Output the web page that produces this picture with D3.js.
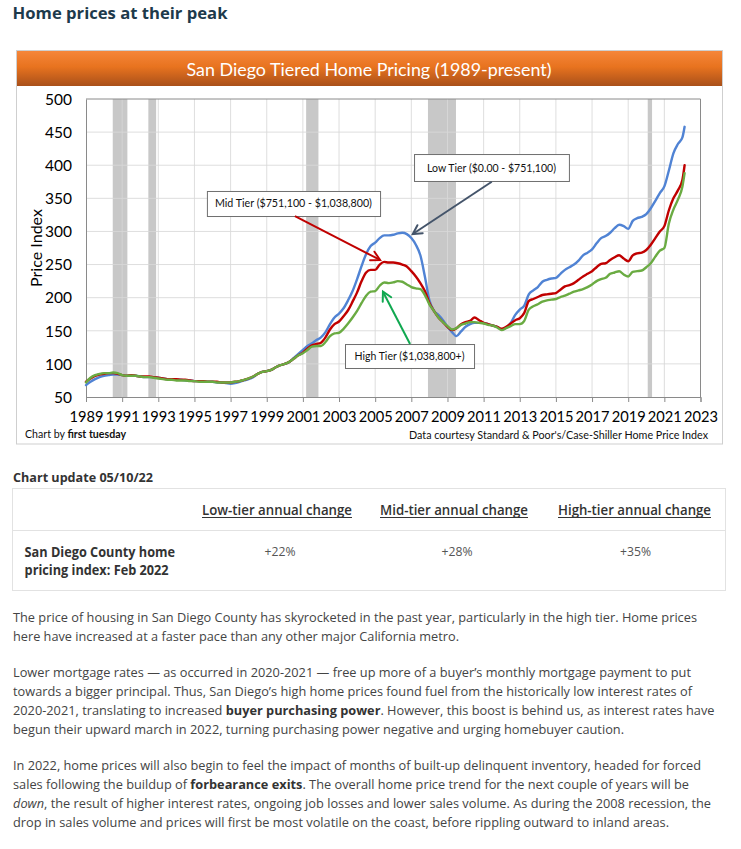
<!DOCTYPE html>
<html><head><meta charset="utf-8">
<script src="https://cdn.jsdelivr.net/npm/d3@7"></script>
<style>body{margin:0;background:#fff;} svg{display:block;}</style>
</head><body>
<svg id="c" width="741" height="849"></svg>
<script>
// ---------- DATA ----------
const startYear = 1989, quarterStep = 0.25, lastDate = 2022.12;
const lowTier = [
 68,73,77,80, 82,83,84,84, 83,82,82,82, 81,80,80,80, 79,78,77,77,
 76,76,75,75, 74,74,73,73, 73,72,72,71, 70,71,73,75, 77,80,85,88,
 89,91,95,98, 100,103,109,115, 121,127,131,136, 140,148,160,170,
 176,184,196,210, 228,248,266,278, 283,290,294,294, 295,297,298,296,
 290,280,264,232, 196,180,174,166, 156,148,142,149, 156,160,162,162,
 162,160,158,156, 152,155,162,174, 182,188,205,211, 216,224,227,229,
 230,236,242,246, 250,256,264,268, 273,282,290,293, 298,305,310,308,
 304,316,320,322, 326,335,346,358, 368,392,418,432, 442,458];
const midTier = [
 73,78,82,84, 85,86,86,85, 83,82,83,82, 81,81,81,80, 79,78,77,77,
 77,76,76,75, 74,74,74,73, 73,73,72,72, 72,73,74,76, 78,81,85,88,
 89,91,95,98, 100,103,108,113, 117,123,128,130, 132,140,152,160,
 164,172,181,194, 208,225,238,242, 242,250,254,253, 253,252,250,247,
 240,232,222,210, 192,180,170,163, 156,151,154,160, 163,165,170,166,
 162,160,158,156, 153,156,161,166, 169,177,195,198, 201,204,205,206,
 207,212,217,219, 222,227,232,236, 240,246,251,252, 257,261,264,259,
 255,264,267,268, 272,280,290,300, 308,332,350,362, 378,400];
const highTier = [
 72,79,83,85, 86,86,87,86, 83,82,82,82, 81,80,80,79, 78,77,76,76,
 75,75,75,74, 74,73,73,73, 73,72,72,72, 72,73,74,76, 78,81,85,88,
 89,91,95,98, 100,103,108,113, 116,121,126,127, 127,133,142,146,
 147,153,161,170, 180,192,203,209, 210,218,223,222, 223,225,224,220,
 216,214,213,204, 190,180,170,163, 157,152,154,159, 161,163,163,162,
 161,159,158,155, 151,154,157,160, 160,165,182,187, 190,194,196,197,
 198,201,203,206, 209,211,213,216, 220,225,228,230, 236,238,240,235,
 232,239,240,241, 246,252,262,271, 275,312,333,348, 368,388];
const seriesNames = ["Low Tier", "Mid Tier", "High Tier"];
const seriesColors = ["#5083d4", "#c00000", "#6aab42"];
const recessionStart = [1990.48, 1992.45, 2001.18, 2007.92, 2020.08];
const recessionEnd   = [1991.29, 1992.88, 2001.86, 2009.47, 2020.32];
const xTickLabels = [1989,1991,1993,1995,1997,1999,2001,2003,2005,2007,2009,2011,2013,2015,2017,2019,2021,2023];
const yTickLabels = [50,100,150,200,250,300,350,400,450,500];
// annotations in data coordinates (year, index value)
const annoText = ["Mid Tier ($751,100 - $1,038,800)", "Low Tier ($0.00 - $751,100)", "High Tier ($1,038,800+)"];
const annoBox = [[1995.69,2005.27,361.1,323.3],[2007.15,2015.72,416.9,376.2],[2003.33,2010.47,130,93.8]];
const annoArrow = [[2000.56,323.3,2005.27,256.9],[2011.45,375.1,2007.08,296.1],[2006.93,130,2005.43,209]];
const annoColor = ["#c00000", "#44546a", "#10a850"];
const annoTextLen = [157,129,110];

const tableHeaders = ["Low-tier annual change","Mid-tier annual change","High-tier annual change"];
const tableRowLabel = ["San Diego County home","pricing index: Feb 2022"];
const tableValues = ["+22%","+28%","+35%"];

// ---------- DRAW ----------
const svg = d3.select('#c');
const chartFont = "Lato, 'Open Sans', sans-serif";
const pageFont = "'Open Sans', sans-serif";
svg.append('rect').attr('width',741).attr('height',849).attr('fill','#fff');

svg.append('text').attr('x',12.5).attr('y',18.5).text('Home prices at their peak')
  .attr('font-family',pageFont).attr('font-weight',700).attr('font-size',16)
  .attr('fill','#1d3a4b').attr('textLength',215).attr('lengthAdjust','spacingAndGlyphs');

// chart panel
const defs = svg.append('defs');
const g1 = defs.append('linearGradient').attr('id','hdr').attr('x1',0).attr('x2',0).attr('y1',0).attr('y2',1);
g1.append('stop').attr('offset','0%').attr('stop-color','#f5863a');
g1.append('stop').attr('offset','45%').attr('stop-color','#e8731f');
g1.append('stop').attr('offset','100%').attr('stop-color','#a9501a');

svg.append('rect').attr('x',16.5).attr('y',50.5).attr('width',706).attr('height',393.5)
  .attr('fill','#fff').attr('stroke','#cfcfcf');
svg.append('rect').attr('x',17).attr('y',51).attr('width',705).attr('height',35).attr('fill','url(#hdr)');
svg.append('text').attr('x',369).attr('y',75.7).attr('text-anchor','middle')
  .attr('font-family',chartFont).attr('font-size',17).attr('fill','#fff')
  .attr('textLength',365).attr('lengthAdjust','spacingAndGlyphs')
  .text('San Diego Tiered Home Pricing (1989-present)');

const x = d3.scaleLinear().domain([1989,2023]).range([86,700.5]);
const y = d3.scaleLinear().domain([50,500]).range([397,99]);

const plot = svg.append('g');
// recession bands
plot.selectAll('rect.rec').data(recessionStart).join('rect').attr('class','rec')
  .attr('x',(d)=>x(d)).attr('width',(d,i)=>x(recessionEnd[i])-x(d))
  .attr('y',y(500)).attr('height',y(50)-y(500)).attr('fill','#c8c8c8');
// grid
plot.selectAll('line.vg').data(xTickLabels.slice(1,-1)).join('line').attr('class','vg')
  .attr('x1',d=>x(d)).attr('x2',d=>x(d)).attr('y1',y(500)).attr('y2',y(50))
  .attr('stroke','#d9d9d9').attr('stroke-width',1).attr('opacity',0.85);
plot.selectAll('line.hg').data(yTickLabels.slice(1,-1)).join('line').attr('class','hg')
  .attr('x1',x(1989)).attr('x2',x(2023)).attr('y1',d=>y(d)).attr('y2',d=>y(d))
  .attr('stroke','#d9d9d9').attr('stroke-width',1).attr('opacity',0.85);
// frame
plot.append('line').attr('x1',x(1989)).attr('x2',x(2023)).attr('y1',y(500)).attr('y2',y(500)).attr('stroke','#8a8a8a');
plot.append('line').attr('x1',x(2023)).attr('x2',x(2023)).attr('y1',y(500)).attr('y2',y(50)).attr('stroke','#8a8a8a');

// axes
const xAxis = d3.axisBottom(x).tickValues(xTickLabels).tickFormat(d3.format('d')).tickSize(5).tickPadding(8);
const gx = svg.append('g').attr('transform',`translate(0,${y(50)})`).call(xAxis);
gx.select('.domain').attr('stroke','#8a8a8a');
gx.selectAll('.tick line').attr('stroke','#8a8a8a');
gx.selectAll('.tick text').attr('font-family',chartFont).attr('font-size',15).attr('fill','#000')
  .attr('dy',null).attr('y',24.5).attr('textLength',34).attr('lengthAdjust','spacingAndGlyphs');

const yAxis = d3.axisLeft(y).tickValues(yTickLabels).tickSize(0).tickPadding(14);
const gy = svg.append('g').attr('transform',`translate(${x(1989)},0)`).call(yAxis);
gy.select('.domain').attr('stroke','#8a8a8a');
gy.selectAll('.tick text').attr('font-family',chartFont).attr('font-size',15.5).attr('fill','#000').attr('dy','0.34em');

svg.append('text').attr('transform','translate(41.5,248) rotate(-90)').attr('text-anchor','middle')
  .attr('font-family',chartFont).attr('font-size',16).attr('fill','#000')
  .attr('textLength',78).attr('lengthAdjust','spacingAndGlyphs').text('Price Index');

// series lines
const dates = lowTier.map((d,i)=> i < lowTier.length-1 ? startYear + i*quarterStep : lastDate);
const series = [lowTier, midTier, highTier];
const line = d3.line().x((d,i)=>x(dates[i])).y(d=>y(d)).curve(d3.curveMonotoneX);
svg.append('g').selectAll('path').data(series).join('path')
  .attr('d',d=>line(d)).attr('fill','none')
  .attr('stroke',(d,i)=>seriesColors[i]).attr('stroke-width',2.4)
  .attr('stroke-linejoin','round').attr('stroke-linecap','round');

// annotations
const ag = svg.append('g');
annoText.forEach((t,i)=>{
  const [a0,a1,b0,b1] = annoBox[i];
  ag.append('rect').attr('x',x(a0)+0.5).attr('y',y(b0)+0.5)
    .attr('width',x(a1)-x(a0)).attr('height',y(b1)-y(b0))
    .attr('fill','#fff').attr('stroke','#6f6f6f').attr('stroke-width',1);
  ag.append('text').attr('x',(x(a0)+x(a1))/2).attr('y',(y(b0)+y(b1))/2+4)
    .attr('text-anchor','middle').attr('font-family',chartFont).attr('font-size',11.5)
    .attr('fill','#111').attr('textLength',annoTextLen[i]).attr('lengthAdjust','spacingAndGlyphs').text(t);
  const [p0,q0,p1,q1] = annoArrow[i];
  const X0=x(p0),Y0=y(q0),X1=x(p1),Y1=y(q1);
  const ang = Math.atan2(Y1-Y0,X1-X0), L=10, hw=0.5;
  const h1=[X1-L*Math.cos(ang-hw), Y1-L*Math.sin(ang-hw)];
  const h2=[X1-L*Math.cos(ang+hw), Y1-L*Math.sin(ang+hw)];
  ag.append('line').attr('x1',X0).attr('y1',Y0).attr('x2',X1).attr('y2',Y1)
    .attr('stroke',annoColor[i]).attr('stroke-width',2);
  ag.append('path').attr('d',`M${h1[0]},${h1[1]}L${X1},${Y1}L${h2[0]},${h2[1]}`)
    .attr('fill','none').attr('stroke',annoColor[i]).attr('stroke-width',2)
    .attr('stroke-linejoin','miter').attr('stroke-linecap','round');
});

// footers
const f1 = svg.append('text').attr('x',25).attr('y',437.5).attr('font-family',chartFont).attr('font-size',11)
  .attr('fill','#111').attr('textLength',101).attr('lengthAdjust','spacingAndGlyphs');
f1.append('tspan').text('Chart by ');
f1.append('tspan').attr('font-weight',700).text('first tuesday');
svg.append('text').attr('x',708).attr('y',438.5).attr('text-anchor','end').attr('font-family',chartFont)
  .attr('font-size',11).attr('fill','#111').attr('textLength',299).attr('lengthAdjust','spacingAndGlyphs')
  .text("Data courtesy Standard & Poor's/Case-Shiller Home Price Index");

// chart update + table
svg.append('text').attr('x',13).attr('y',482).attr('font-family',pageFont).attr('font-size',13)
  .attr('font-weight',700).attr('fill','#333').attr('textLength',140).attr('lengthAdjust','spacingAndGlyphs')
  .text('Chart update 05/10/22');
svg.append('rect').attr('x',12.5).attr('y',488.5).attr('width',713).attr('height',102)
  .attr('fill','none').attr('stroke','#e2e2e2');
svg.append('line').attr('x1',12.5).attr('x2',725.5).attr('y1',530.5).attr('y2',530.5).attr('stroke','#e2e2e2');
const colCenters = [277, 454, 634.5];
const headWidths = [150, 148, 153];
tableHeaders.forEach((t,i)=>{
  svg.append('text').attr('x',colCenters[i]).attr('y',514.5).attr('text-anchor','middle')
    .attr('font-family',pageFont).attr('font-size',13.5).attr('font-weight',600).attr('fill','#333')
    .attr('textLength',headWidths[i]).attr('lengthAdjust','spacingAndGlyphs').text(t);
  svg.append('line').attr('x1',colCenters[i]-headWidths[i]/2).attr('x2',colCenters[i]+headWidths[i]/2)
    .attr('y1',517.5).attr('y2',517.5).attr('stroke','#333').attr('stroke-width',1);
});
const valCenters = [280, 457, 635.5];
tableValues.forEach((t,i)=>{
  svg.append('text').attr('x',valCenters[i]).attr('y',556).attr('text-anchor','middle')
    .attr('font-family',pageFont).attr('font-size',12.5).attr('fill','#555')
    .attr('textLength',31).attr('lengthAdjust','spacingAndGlyphs').text(t);
});
const rowW = [150.5, 144];
tableRowLabel.forEach((t,i)=>{
  svg.append('text').attr('x',24.6).attr('y',556.5+i*18.8)
    .attr('font-family',pageFont).attr('font-size',13.5).attr('font-weight',700).attr('fill','#333')
    .attr('textLength',rowW[i]).attr('lengthAdjust','spacingAndGlyphs').text(t);
});

// body paragraphs: each line = list of [text, style]
const bodyLines = [
 [["The price of housing in San Diego County has skyrocketed in the past year, particularly in the high tier. Home prices",""]],
 [["here have increased at a faster pace than any other major California metro.",""]],
 [["Lower mortgage rates \u2014 as occurred in 2020-2021 \u2014 free up more of a buyer\u2019s monthly mortgage payment to put",""]],
 [["towards a bigger principal. Thus, San Diego\u2019s high home prices found fuel from the historically low interest rates of",""]],
 [["2020-2021, translating to increased ",""],["buyer purchasing power","b"],[". However, this boost is behind us, as interest rates have",""]],
 [["begun their upward march in 2022, turning purchasing power negative and urging homebuyer caution.",""]],
 [["In 2022, home prices will also begin to feel the impact of months of built-up delinquent inventory, headed for forced",""]],
 [["sales following the buildup of ",""],["forbearance exits","b"],[". The overall home price trend for the next couple of years will be",""]],
 [["down","i"],[", the result of higher interest rates, ongoing job losses and lower sales volume. As during the 2008 recession, the",""]],
 [["drop in sales volume and prices will first be most volatile on the coast, before rippling outward to inland areas.",""]]
];
const bodyBase = [622, 641, 677, 696, 715, 734, 770, 788.5, 807.5, 826.5];
const bodyEnd = [697, 459, 691, 692, 714.5, 624, 701, 689, 711, 669];
bodyLines.forEach((segs,i)=>{
  const t = svg.append('text').attr('x',13).attr('y',bodyBase[i]).attr('font-family',pageFont)
    .attr('font-size',13).attr('fill','#444').attr('textLength',bodyEnd[i]-13).attr('lengthAdjust','spacingAndGlyphs');
  segs.forEach(([s,st])=>{
    const sp = t.append('tspan').text(s);
    if (st==='b') sp.attr('font-weight',700).attr('fill','#333');
    if (st==='i') sp.attr('font-style','italic');
  });
});
</script>
</body></html>
